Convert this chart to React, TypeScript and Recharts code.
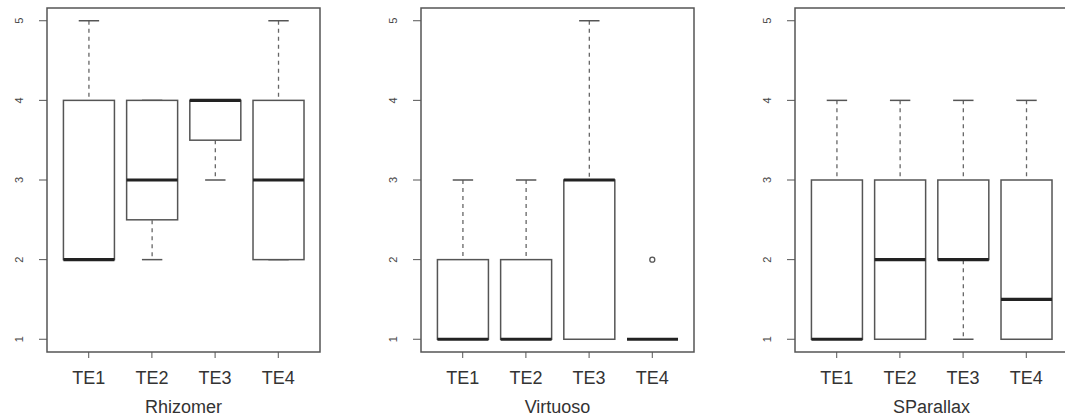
import { ComposedChart, Bar, Scatter, XAxis, YAxis, ReferenceArea } from "recharts"

const categories = ["TE1", "TE2", "TE3", "TE4"]
const positions = [1, 2, 3, 4]
const yTicks = [1, 2, 3, 4, 5]

// Rhizomer
const rhizomerMin = [2, 2, 3, 2]
const rhizomerQ1 = [2, 2.5, 3.5, 2]
const rhizomerMed = [2, 3, 4, 3]
const rhizomerQ3 = [4, 4, 4, 4]
const rhizomerMax = [5, 4, 4, 5]

// Virtuoso
const virtuosoMin = [1, 1, 1, 1]
const virtuosoQ1 = [1, 1, 1, 1]
const virtuosoMed = [1, 1, 3, 1]
const virtuosoQ3 = [2, 2, 3, 1]
const virtuosoMax = [3, 3, 5, 1]
const virtuosoOutliers = [{ pos: 4, value: 2 }]

// SParallax
const sparallaxMin = [1, 1, 1, 1]
const sparallaxQ1 = [1, 1, 2, 1]
const sparallaxMed = [1, 2, 2, 1.5]
const sparallaxQ3 = [3, 3, 3, 3]
const sparallaxMax = [4, 4, 4, 4]

const buildRows = (mn: number[], q1: number[], med: number[], q3: number[], mx: number[]) =>
    positions.map((p, i) => ({ pos: p, min: mn[i], q1: q1[i], med: med[i], q3: q3[i], max: mx[i] }))

const X_DOMAIN = [0.34, 4.66]
const Y_DOMAIN = [0.84, 5.16]
const LINE = "#555"

const WhiskerShape = (props: any) => {
    const { x, y, width, height } = props
    const top = Math.min(y, y + height)
    const bottom = Math.max(y, y + height)
    const cx = x + width / 2
    const cap = width * 0.2
    return (
        <g>
            <line x1={cx} x2={cx} y1={top} y2={bottom} stroke="#666" strokeWidth={1.3} strokeDasharray="4 4" />
            <line x1={cx - cap} x2={cx + cap} y1={top} y2={top} stroke={LINE} strokeWidth={1.5} />
            <line x1={cx - cap} x2={cx + cap} y1={bottom} y2={bottom} stroke={LINE} strokeWidth={1.5} />
        </g>
    )
}

const BoxShape = (props: any) => {
    const { x, y, width, height } = props
    const top = Math.min(y, y + height)
    return <rect x={x} y={top} width={width} height={Math.abs(height)} fill="#fff" stroke={LINE} strokeWidth={1.5} />
}

const MedianShape = (props: any) => {
    const { x, y, width } = props
    return <line x1={x} x2={x + width} y1={y} y2={y} stroke="#222" strokeWidth={3.2} />
}

const OutlierShape = (props: any) => (
    <circle cx={props.cx} cy={props.cy} r={2.5} fill="none" stroke="#555" strokeWidth={1.3} />
)

const YTick = (props: any) => {
    const { x, y, payload } = props
    return (
        <text x={x} y={y} transform={`rotate(-90, ${x}, ${y})`} textAnchor="middle" fontSize={11} fill="#444">
            {payload.value}
        </text>
    )
}

function BoxPanel({ title, rows, outliers, left }: { title: string; rows: any[]; outliers?: any[]; left: number }) {
    return (
        <div style={{ position: "absolute", left, top: 0, width: 374, height: 418 }}>
            <ComposedChart
                width={374}
                height={418}
                data={rows}
                margin={{ top: 8, right: 54, bottom: 0, left: 0 }}
                barCategoryGap="10%"
            >
                <XAxis
                    xAxisId="main"
                    type="number"
                    dataKey="pos"
                    domain={X_DOMAIN}
                    ticks={positions}
                    allowDataOverflow
                    tickFormatter={(v: number) => categories[v - 1]}
                    tickSize={6}
                    tickMargin={13}
                    tick={{ fill: "#333", fontSize: 18 }}
                    tickLine={{ stroke: LINE }}
                    axisLine={false}
                    height={66}
                    label={{ value: title, position: "insideBottom", offset: 5, fill: "#333", fontSize: 18 }}
                />
                <XAxis xAxisId="box" type="number" dataKey="pos" domain={X_DOMAIN} ticks={positions} allowDataOverflow hide height={0} />
                <XAxis xAxisId="med" type="number" dataKey="pos" domain={X_DOMAIN} ticks={positions} allowDataOverflow hide height={0} />
                <YAxis
                    type="number"
                    domain={Y_DOMAIN}
                    ticks={yTicks}
                    allowDataOverflow
                    width={47}
                    tickSize={8}
                    tickMargin={16}
                    tick={<YTick />}
                    tickLine={{ stroke: LINE }}
                    axisLine={false}
                />
                <ReferenceArea
                    xAxisId="main"
                    x1={X_DOMAIN[0]}
                    x2={X_DOMAIN[1]}
                    y1={Y_DOMAIN[0]}
                    y2={Y_DOMAIN[1]}
                    fill="none"
                    fillOpacity={0}
                    stroke={LINE}
                    strokeWidth={1.5}
                />
                <Bar xAxisId="main" dataKey={(d: any) => [d.min, d.max]} shape={<WhiskerShape />} isAnimationActive={false} />
                <Bar xAxisId="box" dataKey={(d: any) => [d.q1, d.q3]} shape={<BoxShape />} isAnimationActive={false} />
                <Bar xAxisId="med" dataKey={(d: any) => [d.med, d.med]} shape={<MedianShape />} isAnimationActive={false} />
                {outliers && (
                    <Scatter xAxisId="main" data={outliers} dataKey="value" shape={<OutlierShape />} isAnimationActive={false} />
                )}
            </ComposedChart>
        </div>
    )
}

export default function App() {
    return (
        <div
            style={{
                position: "absolute",
                left: 0,
                top: 0,
                width: 1065,
                height: 418,
                overflow: "hidden",
                background: "#fff",
                fontFamily: "'Liberation Sans', Arial, sans-serif",
            }}
        >
            <BoxPanel
                left={0}
                title="Rhizomer"
                rows={buildRows(rhizomerMin, rhizomerQ1, rhizomerMed, rhizomerQ3, rhizomerMax)}
            />
            <BoxPanel
                left={374}
                title="Virtuoso"
                rows={buildRows(virtuosoMin, virtuosoQ1, virtuosoMed, virtuosoQ3, virtuosoMax)}
                outliers={virtuosoOutliers}
            />
            <BoxPanel
                left={748}
                title="SParallax"
                rows={buildRows(sparallaxMin, sparallaxQ1, sparallaxMed, sparallaxQ3, sparallaxMax)}
            />
        </div>
    )
}
